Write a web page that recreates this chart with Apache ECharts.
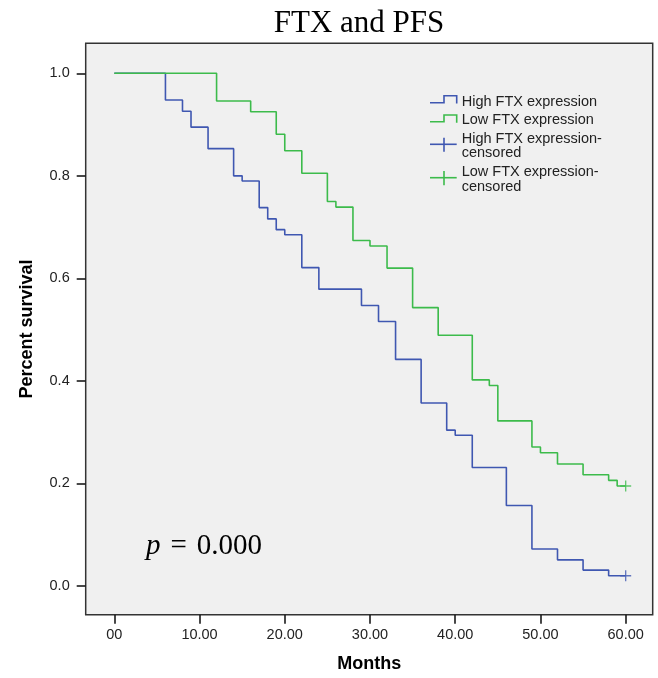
<!DOCTYPE html>
<html>
<head>
<meta charset="utf-8">
<script src="https://cdn.jsdelivr.net/npm/echarts@6/dist/echarts.min.js"></script>
<style>
html,body{margin:0;padding:0;background:#ffffff;}
#chart{width:658px;height:678px;}
</style>
</head>
<body>
<div id="chart"></div>
<script>
// ---- data ----
var highTimes = [0, 6, 8, 9, 11, 14, 15, 17, 18, 19, 20, 22, 24, 29, 31, 33, 36, 39, 40, 42, 46, 49, 52, 55, 58, 60];
var highSurv  = [1, 0.948, 0.926, 0.895, 0.853, 0.800, 0.790, 0.738, 0.716, 0.695, 0.685, 0.621, 0.579, 0.547, 0.516, 0.442, 0.357, 0.304, 0.294, 0.231, 0.157, 0.072, 0.051, 0.031, 0.020, 0.020];
var lowTimes  = [0, 12, 16, 19, 20, 22, 25, 26, 28, 30, 32, 35, 38, 42, 44, 45, 49, 50, 52, 55, 58, 59, 60];
var lowSurv   = [1, 0.946, 0.925, 0.881, 0.849, 0.805, 0.750, 0.739, 0.674, 0.663, 0.620, 0.543, 0.489, 0.402, 0.391, 0.322, 0.271, 0.260, 0.238, 0.217, 0.206, 0.195, 0.195];
var highCensored = [[60, 0.020]];
var lowCensored  = [[60, 0.195]];
var xTicks = [0, 10, 20, 30, 40, 50, 60];
var yTicks = [0, 0.2, 0.4, 0.6, 0.8, 1.0];
var seriesNames = ['High FTX expression', 'Low FTX expression', 'High FTX expression-censored', 'Low FTX expression-censored'];
var titleText = 'FTX and PFS';
var pText = '0.000';

var BLUE = '#3f57b1';
var GREEN = '#3cbb4b';
var SANS = '"Liberation Sans", Arial, sans-serif';
var SERIF = '"Liberation Serif", "Times New Roman", serif';

function zip(a, b) { return a.map(function (v, i) { return [v, b[i]]; }); }

var plusPath = 'path://M4.4,0 H5.6 V4.4 H10 V5.6 H5.6 V10 H4.4 V5.6 H0 V4.4 H4.4 Z';

var chart = echarts.init(document.getElementById('chart'), null, {renderer: 'canvas'});
var option = {
  animation: false,
  backgroundColor: '#ffffff',
  grid: {
    left: 85.7, right: 658 - 652.7, top: 43.3, bottom: 678 - 614.7,
    show: true, backgroundColor: '#f0f0f0', borderColor: '#333333', borderWidth: 1.5,
    containLabel: false
  },
  xAxis: {
    type: 'value', min: -3.356, max: 63.17,
    name: 'Months', nameLocation: 'middle', nameGap: 40,
    nameTextStyle: {fontFamily: SANS, fontWeight: 'bold', fontSize: 18, color: '#000'},
    axisLine: {show: false, onZero: false},
    splitLine: {show: false},
    axisTick: {show: true, inside: false, length: 9, customValues: xTicks, lineStyle: {color: '#1a1a1a', width: 1.6}},
    axisLabel: {
      customValues: xTicks, margin: 13, fontFamily: SANS, fontSize: 14.5, color: '#222',
      formatter: function (v) { return v === 0 ? '00' : v.toFixed(2); }
    }
  },
  yAxis: {
    type: 'value', min: -0.056, max: 1.0585,
    name: 'Percent survival', nameLocation: 'middle', nameGap: 50,
    nameTextStyle: {fontFamily: SANS, fontWeight: 'bold', fontSize: 18, color: '#000'},
    axisLine: {show: false, onZero: false},
    splitLine: {show: false},
    axisTick: {show: true, inside: false, length: 9, customValues: yTicks, lineStyle: {color: '#1a1a1a', width: 1.6}},
    axisLabel: {
      customValues: yTicks, margin: 16, fontFamily: SANS, fontSize: 14.5, color: '#222',
      formatter: function (v) { return v.toFixed(1); }
    }
  },
  series: [
    {
      name: seriesNames[0], type: 'line', step: 'end', data: zip(highTimes, highSurv),
      symbol: 'none', lineStyle: {color: BLUE, width: 1.6}, itemStyle: {color: BLUE}, z: 3
    },
    {
      name: seriesNames[1], type: 'line', step: 'end', data: zip(lowTimes, lowSurv),
      symbol: 'none', lineStyle: {color: GREEN, width: 1.6}, itemStyle: {color: GREEN}, z: 4
    },
    {
      name: seriesNames[2], type: 'scatter', data: highCensored, symbol: plusPath,
      symbolSize: [11, 11], itemStyle: {color: BLUE}, z: 5
    },
    {
      name: seriesNames[3], type: 'scatter', data: lowCensored, symbol: plusPath,
      symbolSize: [11, 11], itemStyle: {color: GREEN}, z: 5
    }
  ],
  graphic: [
    // title
    {type: 'text', x: 359, y: 24, z: 10,
     style: {text: titleText, fontFamily: SERIF, fontSize: 31, fill: '#000', align: 'center', verticalAlign: 'middle'}},
    // p value
    {type: 'text', x: 146, y: 546, z: 10,
     style: {
       text: '{i|p}{s|=}{n|' + pText + '}', verticalAlign: 'middle', align: 'left',
       rich: {
         i: {fontFamily: SERIF, fontStyle: 'italic', fontSize: 29, fill: '#000'},
         s: {fontFamily: SERIF, fontSize: 29, fill: '#000', padding: [0, 10, 0, 10]},
         n: {fontFamily: SERIF, fontSize: 29, fill: '#000'}
       }
     }},
    // legend icons
    {type: 'polyline', z: 10, shape: {points: [[430, 102.7], [444, 102.7], [444, 95.7], [456.7, 95.7], [456.7, 103.5]]},
     style: {stroke: BLUE, lineWidth: 1.6, fill: null}},
    {type: 'polyline', z: 10, shape: {points: [[430, 121.7], [444, 121.7], [444, 115], [456.7, 115], [456.7, 122.7]]},
     style: {stroke: GREEN, lineWidth: 1.6, fill: null}},
    {type: 'line', z: 10, shape: {x1: 430, y1: 144.3, x2: 456.7, y2: 144.3}, style: {stroke: BLUE, lineWidth: 1.6}},
    {type: 'line', z: 10, shape: {x1: 444, y1: 137.7, x2: 444, y2: 151.7}, style: {stroke: BLUE, lineWidth: 1.6}},
    {type: 'line', z: 10, shape: {x1: 430, y1: 177.7, x2: 456.7, y2: 177.7}, style: {stroke: GREEN, lineWidth: 1.6}},
    {type: 'line', z: 10, shape: {x1: 444, y1: 171, x2: 444, y2: 185.3}, style: {stroke: GREEN, lineWidth: 1.6}},
    // legend texts
    {type: 'text', x: 461.7, y: 101.7, z: 10, style: {text: 'High FTX expression', fontFamily: SANS, fontSize: 14.5, fill: '#222', verticalAlign: 'middle'}},
    {type: 'text', x: 461.7, y: 120.2, z: 10, style: {text: 'Low FTX expression', fontFamily: SANS, fontSize: 14.5, fill: '#222', verticalAlign: 'middle'}},
    {type: 'text', x: 461.7, y: 139.3, z: 10, style: {text: 'High FTX expression-', fontFamily: SANS, fontSize: 14.5, fill: '#222', verticalAlign: 'middle'}},
    {type: 'text', x: 461.7, y: 152.9, z: 10, style: {text: 'censored', fontFamily: SANS, fontSize: 14.5, fill: '#222', verticalAlign: 'middle'}},
    {type: 'text', x: 461.7, y: 172.3, z: 10, style: {text: 'Low FTX expression-', fontFamily: SANS, fontSize: 14.5, fill: '#222', verticalAlign: 'middle'}},
    {type: 'text', x: 461.7, y: 186.7, z: 10, style: {text: 'censored', fontFamily: SANS, fontSize: 14.5, fill: '#222', verticalAlign: 'middle'}}
  ]
};
chart.setOption(option);
</script>
</body>
</html>
